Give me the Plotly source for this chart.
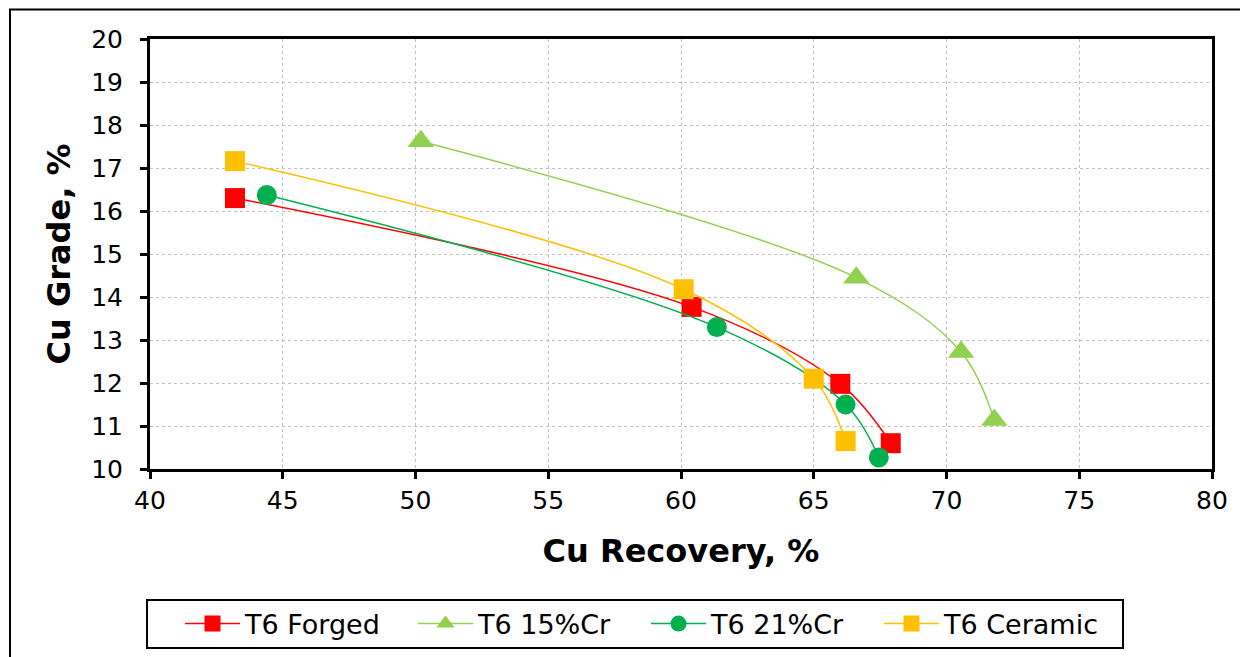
import plotly.graph_objects as go

# ---- data ----
series_names = ["T6 Forged", "T6 15%Cr", "T6 21%Cr", "T6 Ceramic"]
forged_x = [43.2, 60.4, 66.0, 67.9]
forged_y = [16.3, 13.77, 11.98, 10.6]
cr15_x = [50.2, 66.6, 70.55, 71.8]
cr15_y = [17.62, 14.45, 12.72, 11.14]
cr21_x = [44.4, 61.35, 66.2, 67.45]
cr21_y = [16.37, 13.3, 11.5, 10.27]
ceramic_x = [43.2, 60.1, 65.0, 66.2]
ceramic_y = [17.16, 14.18, 12.1, 10.65]
x_ticks = [40, 45, 50, 55, 60, 65, 70, 75, 80]
y_ticks = [10, 11, 12, 13, 14, 15, 16, 17, 18, 19, 20]

OFF = 8  # default page body margin
W, H = 1248 - OFF, 657 - OFF
L = 150 - OFF
T = 39 - OFF
R = W - (1212 - OFF)
B = H - (469 - OFF)
pw, ph = W - L - R, H - T - B

def px_x(p):
    return (p - OFF - L) / pw

def px_y(p):
    return (H - B - (p - OFF)) / ph

fig = go.Figure()
styles = [
    (forged_x, forged_y, "#FF0000", "square", 20),
    (cr15_x, cr15_y, "#92D050", "triangle-up", 23),
    (cr21_x, cr21_y, "#00B050", "circle", 20),
    (ceramic_x, ceramic_y, "#FFC000", "square", 20),
]
for name, (xs, ys, col, sym, sz) in zip(series_names, styles):
    fig.add_trace(go.Scatter(
        x=xs, y=ys, name=name, mode="lines+markers",
        line=dict(color=col, width=1.5, shape="spline", smoothing=1.0),
        marker=dict(color=col, symbol=sym, size=sz, line=dict(width=0)),
    ))

axis_common = dict(
    showline=True, linecolor="black", linewidth=3, mirror=True,
    ticks="outside", ticklen=7, tickwidth=2.5, tickcolor="black",
    showgrid=True, gridcolor="#BFBFBF", gridwidth=1, griddash="dot",
    zeroline=False,
    tickfont=dict(family="DejaVu Sans", size=25, color="black"),
)
fig.update_xaxes(range=[40, 80], tickvals=x_ticks, **axis_common,
                 title=dict(text="<b>Cu Recovery, %</b>", standoff=26,
                            font=dict(family="DejaVu Sans", size=32, color="black")))
fig.update_yaxes(range=[10, 20], tickvals=y_ticks, **axis_common,
                 ticklabelstandoff=12,
                 title=dict(text="<b>Cu Grade, %</b>", standoff=11,
                            font=dict(family="DejaVu Sans", size=32, color="black")))

# outer chart border
fig.add_shape(type="rect", xref="paper", yref="paper",
              x0=px_x(10), x1=px_x(1275), y0=px_y(690), y1=px_y(9.5),
              line=dict(color="black", width=2), fillcolor="rgba(0,0,0,0)", layer="below")
# legend box
fig.add_shape(type="rect", xref="paper", yref="paper",
              x0=px_x(147), x1=px_x(1123), y0=px_y(648), y1=px_y(600),
              line=dict(color="black", width=2), fillcolor="white", layer="below")

fig.update_layout(
    width=W, height=H,
    margin=dict(l=L, r=R, t=T, b=B, autoexpand=False),
    paper_bgcolor="white", plot_bgcolor="white",
    showlegend=True,
    legend=dict(
        orientation="h", xanchor="left", yanchor="middle",
        x=px_x(180), y=px_y(624),
        borderwidth=0, bgcolor="rgba(0,0,0,0)",
        font=dict(family="DejaVu Sans", size=27, color="black"),
        itemwidth=55, entrywidth=163,
        traceorder="normal",
    ),
)

fig.write_html("out.html")
